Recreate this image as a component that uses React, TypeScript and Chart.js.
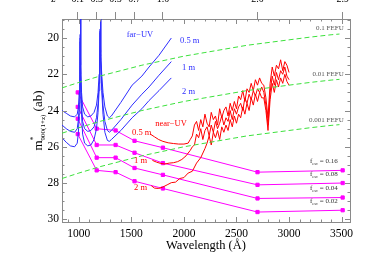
import { useEffect, useRef } from 'react';
import { Chart, registerables } from 'chart.js';

Chart.register(...registerables);

const SHIFT = 10;
const CANVAS_W = 369;
const CANVAS_H = 262 + SHIFT;

// ---------- axes ----------
const X_MIN = 840;
const X_MAX = 3580;
const Y_MIN = 18.95;
const Y_MAX = 30.15;
const X_TICKS = [1000, 1500, 2000, 2500, 3000, 3500];
const Y_TICKS = [20, 22, 24, 26, 28, 30];
const Z_TICKS = [0.1, 0.3, 0.5, 0.7, 1.0, 2.0, 2.9];
const Z_LABELS = ['0.1', '0.3', '0.5', '0.7', '1.0', '2.0', '2.9'];

// ---------- FEFU sky lines (green dashed) ----------
const FEFU_WL = [840, 1000, 1200, 1400, 1600, 1800, 2000, 2200, 2400, 2600, 2800, 3000, 3200, 3400, 3480];
const FEFU_01 = [22.75, 22.45, 22.1, 21.8, 21.5, 21.25, 21.0, 20.8, 20.6, 20.4, 20.25, 20.1, 19.95, 19.82, 19.78];
const FEFU_001 = [25.25, 24.95, 24.6, 24.3, 24.0, 23.75, 23.5, 23.3, 23.1, 22.9, 22.75, 22.6, 22.45, 22.32, 22.28];
const FEFU_0001 = [27.75, 27.45, 27.1, 26.8, 26.5, 26.25, 26.0, 25.8, 25.6, 25.4, 25.25, 25.1, 24.95, 24.82, 24.78];

// ---------- far-UV limits (blue) ----------
const FUV_WL = [840, 880, 920, 960, 985, 996, 1004, 1010, 1013, 1015, 1017, 1020, 1026, 1036, 1055, 1085, 1115, 1145, 1168, 1183, 1193, 1199, 1203, 1205, 1207, 1211, 1218, 1230, 1248, 1272, 1290, 1310, 1400, 1507, 1600, 1668, 1763, 1880];
const FUV_05 = [24.0, 24.15, 24.3, 24.35, 24.2, 23.8, 23.0, 21.5, 19.8, 18.5, 19.8, 21.5, 23.0, 23.8, 24.2, 24.35, 24.3, 24.1, 23.7, 23.0, 22.0, 20.8, 19.5, 18.5, 19.5, 20.8, 22.0, 23.0, 23.8, 24.3, 24.4, 24.3, 23.55, 22.6, 22.1, 21.6, 20.95, 20.0];
const FUV_1 = [24.8, 25.0, 25.15, 25.2, 25.0, 24.5, 23.6, 22.0, 20.0, 18.5, 20.0, 22.0, 23.6, 24.6, 25.0, 25.15, 25.1, 24.9, 24.4, 23.6, 22.5, 21.0, 19.6, 18.5, 19.6, 21.0, 22.5, 23.7, 24.6, 25.1, 25.2, 25.1, 24.5, 23.7, 23.1, 22.7, 22.05, 21.3];
const FUV_2 = [25.5, 25.75, 25.95, 26.0, 25.8, 25.2, 24.2, 22.5, 20.2, 18.5, 20.2, 22.5, 24.2, 25.3, 25.8, 25.95, 25.9, 25.6, 25.0, 24.1, 22.9, 21.2, 19.7, 18.5, 19.7, 21.2, 22.9, 24.2, 25.2, 25.65, 25.7, 25.6, 25.1, 24.4, 23.9, 23.45, 22.9, 22.2];

// ---------- near-UV limits (red) ----------
const NUV_GRID = [2080, 2100, 2120, 2140, 2160, 2180, 2200, 2220, 2240, 2260, 2280, 2300, 2320, 2340, 2360, 2380, 2400, 2420, 2440, 2460, 2480, 2500, 2520, 2540, 2560, 2580, 2600, 2620, 2640, 2660, 2680, 2700, 2720, 2740, 2760, 2780, 2800, 2820, 2840, 2860, 2880, 2900, 2920, 2940, 2960, 2980, 3000];

const NUV05_SMOOTH_WL = [1680, 1720, 1760, 1800, 1850, 1900, 1950, 2000, 2040, 2060];
const NUV05_SMOOTH = [25.3, 25.45, 25.6, 25.7, 25.78, 25.82, 25.85, 25.85, 25.8, 25.6];
const NUV05_NOISY = [25.4, 24.8, 24.6, 25.1, 24.5, 24.9, 24.2, 24.7, 24.9, 24.1, 24.5, 24.3, 24.8, 23.9, 24.4, 24.0, 23.8, 24.3, 23.6, 24.0, 23.5, 23.9, 23.2, 23.4, 22.9, 23.5, 22.8, 23.0, 22.5, 22.9, 22.3, 22.6, 22.2, 22.5, 22.6, 23.3, 24.4, 22.5, 21.6, 22.1, 21.5, 21.7, 21.2, 21.8, 21.3, 21.5, 21.9];

const NUV1_SMOOTH_WL = [1700, 1740, 1780, 1820, 1860, 1900, 1940, 1980, 2020, 2060, 2080];
const NUV1_SMOOTH = [26.75, 26.85, 26.92, 26.95, 26.9, 26.88, 26.82, 26.7, 26.5, 26.2, 26.0];
const NUV1_NOISY = [25.9, 25.3, 25.5, 25.0, 25.6, 25.1, 24.9, 25.4, 24.8, 25.2, 24.6, 25.0, 24.7, 24.3, 24.8, 24.4, 24.6, 24.0, 24.5, 23.9, 24.2, 23.8, 23.6, 24.0, 23.3, 23.6, 23.1, 23.4, 22.9, 23.2, 22.8, 23.0, 22.7, 23.0, 23.7, 24.8, 23.0, 22.1, 22.6, 21.9, 22.3, 21.8, 22.0, 21.6, 22.1, 22.3];

const NUV2_SMOOTH_WL = [1690, 1720, 1760, 1800, 1840, 1880, 1920, 1960, 2000, 2040, 2080, 2120, 2160, 2200];
const NUV2_SMOOTH = [28.15, 28.28, 28.3, 28.22, 28.1, 27.98, 27.95, 27.75, 27.7, 27.45, 27.35, 26.9, 26.6, 26.1];
const NUV2_NOISY = [25.8, 25.4, 25.9, 25.2, 25.5, 25.1, 25.6, 24.9, 25.2, 24.8, 25.1, 24.5, 24.9, 24.3, 24.7, 24.2, 24.4, 23.8, 24.2, 23.6, 24.0, 23.3, 23.7, 23.1, 23.5, 23.0, 23.3, 23.3, 24.0, 25.1, 23.4, 22.5, 23.0, 22.3, 22.7, 22.2, 22.5, 22.0, 22.4, 22.6];

// ---------- escape fraction predictions (magenta) ----------
const MAG_Z = [0.1, 0.3, 0.5, 0.7, 1.0, 2.0, 2.9];
const FESC_016 = [23.0, 25.0, 25.1, 25.67, 26.05, 27.4, 27.3];
const FESC_008 = [23.8, 25.9, 25.9, 26.33, 26.9, 28.1, 28.0];
const FESC_004 = [24.45, 26.6, 26.6, 27.17, 27.55, 28.85, 28.8];
const FESC_002 = [25.3, 27.3, 27.4, 27.9, 28.3, 29.6, 29.5];

// ---------- styles ----------
const SERIF = '"Liberation Serif", "Times New Roman", serif';
const AXIS_COLOR = '#8a8a8a';
const BLUE = 'rgb(45,45,255)';
const RED = 'rgb(255,0,0)';
const MAGENTA = 'rgb(255,0,255)';
const GREEN = 'rgb(60,225,60)';
const GRAY_TXT = '#555';

type Part = { t: string; size: number; dy?: number; hold?: boolean };
type Note = { parts: Part[]; x: number; y: number; color: string; align: 'left' | 'center' | 'right' };

const fesc = (v: string): Part[] => [
  { t: 'f', size: 7 },
  { t: 'esc', size: 4.5, dy: 2 },
  { t: ' = ' + v, size: 7 },
];

const NOTES: Note[] = [
  { parts: [{ t: 'far\u2212UV', size: 8.5 }], x: 1582, y: 19.78, color: BLUE, align: 'center' },
  { parts: [{ t: '0.5 m', size: 8.5 }], x: 1963, y: 20.11, color: BLUE, align: 'left' },
  { parts: [{ t: '1 m', size: 8.5 }], x: 1982, y: 21.6, color: BLUE, align: 'left' },
  { parts: [{ t: '2 m', size: 8.5 }], x: 1982, y: 22.92, color: BLUE, align: 'left' },
  { parts: [{ t: 'near\u2212UV', size: 8.5 }], x: 1877, y: 24.69, color: RED, align: 'center' },
  { parts: [{ t: '0.5 m', size: 8.5 }], x: 1506, y: 25.18, color: RED, align: 'left' },
  { parts: [{ t: '1 m', size: 8.5 }], x: 1525, y: 26.73, color: RED, align: 'left' },
  { parts: [{ t: '2 m', size: 8.5 }], x: 1525, y: 28.22, color: RED, align: 'left' },
  { parts: [{ t: '0.1 FEFU', size: 7 }], x: 3520, y: 19.42, color: GRAY_TXT, align: 'right' },
  { parts: [{ t: '0.01 FEFU', size: 7 }], x: 3520, y: 21.98, color: GRAY_TXT, align: 'right' },
  { parts: [{ t: '0.001 FEFU', size: 7 }], x: 3520, y: 24.5, color: GRAY_TXT, align: 'right' },
  { parts: fesc('0.16'), x: 3199, y: 26.78, color: '#333', align: 'left' },
  { parts: fesc('0.08'), x: 3199, y: 27.45, color: '#333', align: 'left' },
  { parts: fesc('0.04'), x: 3199, y: 28.27, color: '#333', align: 'left' },
  { parts: fesc('0.02'), x: 3199, y: 28.99, color: '#333', align: 'left' },
];

const Y_TITLE: Part[] = [
  { t: 'm', size: 13 },
  { t: '*', size: 8, dy: -6, hold: true },
  { t: '900(1+z)', size: 7, dy: 3 },
  { t: ' (ab)', size: 13 },
];

const pts = (xs: number[], ys: number[]) => xs.map((x, i) => ({ x, y: ys[i] }));
const zToWl = (z: number) => 900 * (1 + z);

function drawRich(ctx: CanvasRenderingContext2D, parts: Part[], x: number, y: number, align: string, color: string) {
  let total = 0;
  const widths: number[] = [];
  for (const p of parts) {
    ctx.font = `${p.size}px ${SERIF}`;
    const w = ctx.measureText(p.t).width;
    widths.push(w);
    if (!p.hold) total += w;
  }
  let cx = align === 'center' ? x - total / 2 : align === 'right' ? x - total : x;
  ctx.fillStyle = color;
  ctx.textAlign = 'left';
  ctx.textBaseline = 'alphabetic';
  parts.forEach((p, i) => {
    ctx.font = `${p.size}px ${SERIF}`;
    ctx.fillText(p.t, cx, y + (p.dy || 0));
    if (!p.hold) cx += widths[i];
  });
}

const decorPlugin = {
  id: 'decor',
  afterDraw(chart: any) {
    const { ctx, chartArea: a, scales } = chart;
    const xs = scales.x;
    const ys = scales.y;
    ctx.save();
    ctx.strokeStyle = AXIS_COLOR;
    ctx.lineWidth = 1;
    ctx.beginPath();
    for (let v = 900; v <= 3500; v += 100) {
      const px = Math.round(xs.getPixelForValue(v)) + 0.5;
      const len = v % 500 === 0 ? 5 : 2.5;
      ctx.moveTo(px, a.bottom);
      ctx.lineTo(px, a.bottom - len);
      ctx.moveTo(px, a.top);
      ctx.lineTo(px, a.top + len);
    }
    for (let v = 19; v <= 30.001; v += 0.5) {
      const py = Math.round(ys.getPixelForValue(v)) + 0.5;
      const len = Math.abs(v % 2) < 1e-6 ? 5 : 2.5;
      ctx.moveTo(a.left, py);
      ctx.lineTo(a.left + len, py);
      ctx.moveTo(a.right, py);
      ctx.lineTo(a.right - len, py);
    }
    ctx.stroke();

    for (const n of NOTES) {
      const px = xs.getPixelForValue(n.x);
      const size = n.parts[0].size;
      const py = ys.getPixelForValue(n.y) + size * 0.35;
      drawRich(ctx, n.parts, px, py, n.align, n.color);
    }

    const x2 = scales.x2;
    ctx.font = `10px ${SERIF}`;
    ctx.fillStyle = '#000';
    ctx.textAlign = 'right';
    ctx.textBaseline = 'middle';
    ctx.fillText('z=', a.left - 1, x2.bottom - 7 - 7 - 6);

    ctx.translate(38, (a.top + a.bottom) / 2);
    ctx.rotate(-Math.PI / 2);
    drawRich(ctx, Y_TITLE, 0, 4, 'center', '#000');
    ctx.restore();
  },
};

const lineDs = (data: { x: number; y: number }[], color: string, extra: any = {}) => ({
  data,
  borderColor: color,
  backgroundColor: color,
  borderWidth: 1,
  pointRadius: 0,
  tension: 0,
  fill: false,
  ...extra,
});

const magentaDs = (vals: number[]) =>
  lineDs(pts(MAG_Z.map(zToWl), vals), MAGENTA, { pointRadius: 2.3, pointStyle: 'rect', pointBorderWidth: 1 });

export default function App() {
  const ref = useRef<HTMLCanvasElement>(null);

  useEffect(() => {
    if (!ref.current) return;
    const greenDash = { borderDash: [5, 3], borderColor: GREEN };
    const chart = new Chart(ref.current, {
      type: 'line',
      data: {
        datasets: [
          lineDs(pts(FEFU_WL, FEFU_01), GREEN, greenDash),
          lineDs(pts(FEFU_WL, FEFU_001), GREEN, greenDash),
          lineDs(pts(FEFU_WL, FEFU_0001), GREEN, greenDash),
          lineDs(pts(FUV_WL, FUV_05), BLUE),
          lineDs(pts(FUV_WL, FUV_1), BLUE),
          lineDs(pts(FUV_WL, FUV_2), BLUE),
          lineDs(pts([...NUV05_SMOOTH_WL, ...NUV_GRID], [...NUV05_SMOOTH, ...NUV05_NOISY]), RED),
          lineDs(pts([...NUV1_SMOOTH_WL, ...NUV_GRID.slice(1)], [...NUV1_SMOOTH, ...NUV1_NOISY]), RED),
          lineDs(pts([...NUV2_SMOOTH_WL, ...NUV_GRID.slice(7)], [...NUV2_SMOOTH, ...NUV2_NOISY]), RED),
          magentaDs(FESC_016),
          magentaDs(FESC_008),
          magentaDs(FESC_004),
          magentaDs(FESC_002),
        ] as any,
      },
      options: {
        responsive: false,
        maintainAspectRatio: false,
        animation: false,
        layout: { padding: { left: 0, right: 19, top: 0, bottom: 0 } },
        plugins: { legend: { display: false }, tooltip: { enabled: false } },
        scales: {
          x: {
            type: 'linear',
            position: 'bottom',
            min: X_MIN,
            max: X_MAX,
            afterBuildTicks: (s: any) => { s.ticks = X_TICKS.map((v) => ({ value: v })); },
            afterFit: (s: any) => { s.height = 40; },
            grid: { display: true, drawOnChartArea: false, drawTicks: false },
            border: { display: true, color: AXIS_COLOR, width: 1 },
            ticks: { font: { family: SERIF, size: 11.5 }, color: '#000', padding: 5, maxRotation: 0, autoSkip: false, callback: (v: any) => String(v) },
            title: { display: true, text: 'Wavelength (Å)', font: { family: SERIF, size: 12.5 }, color: '#000', padding: { top: 0, bottom: 9 } },
          },
          x2: {
            type: 'linear',
            position: 'top',
            min: X_MIN,
            max: X_MAX,
            afterBuildTicks: (s: any) => { s.ticks = Z_TICKS.map((z) => ({ value: zToWl(z) })); },
            afterFit: (s: any) => { s.height = 19 + SHIFT; },
            grid: { display: true, drawOnChartArea: false, drawTicks: true, tickLength: 7, color: AXIS_COLOR },
            border: { display: true, color: AXIS_COLOR, width: 1 },
            ticks: {
              font: { family: SERIF, size: 10 },
              color: '#000',
              padding: 7,
              maxRotation: 0,
              autoSkip: false,
              callback: (_v: any, i: number) => Z_LABELS[i],
            },
          },
          y: {
            type: 'linear',
            position: 'left',
            reverse: true,
            min: Y_MIN,
            max: Y_MAX,
            afterBuildTicks: (s: any) => { s.ticks = Y_TICKS.map((v) => ({ value: v })); },
            afterFit: (s: any) => { s.width = 62; },
            grid: { display: true, drawOnChartArea: false, drawTicks: false },
            border: { display: true, color: AXIS_COLOR, width: 1 },
            ticks: { font: { family: SERIF, size: 11.5 }, color: '#000', padding: 3, callback: (v: any) => String(v) },
          },
          y2: {
            type: 'linear',
            position: 'right',
            reverse: true,
            min: Y_MIN,
            max: Y_MAX,
            afterFit: (s: any) => { s.width = 0; },
            grid: { display: true, drawOnChartArea: false, drawTicks: false },
            border: { display: true, color: AXIS_COLOR, width: 1 },
            ticks: { display: false },
          },
        },
      } as any,
      plugins: [decorPlugin],
    });
    return () => chart.destroy();
  }, []);

  return (
    <div style={{ position: 'fixed', left: 0, top: -SHIFT, width: CANVAS_W, height: CANVAS_H }}>
      <canvas ref={ref} width={CANVAS_W} height={CANVAS_H} style={{ display: 'block', width: CANVAS_W, height: CANVAS_H }} />
    </div>
  );
}
